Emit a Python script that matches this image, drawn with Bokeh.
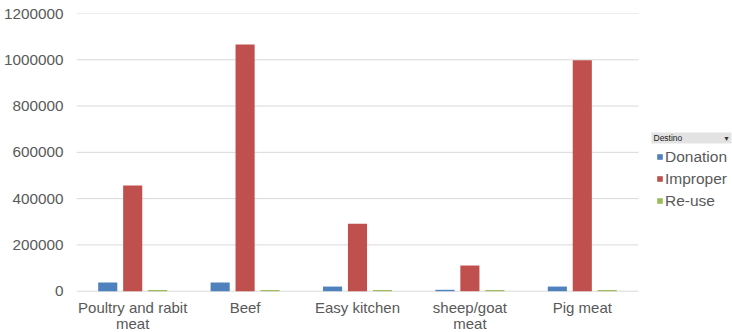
from bokeh.plotting import figure
from bokeh.models import ColumnDataSource, Range1d, BasicTickFormatter, FixedTicker, Legend, LegendItem
from bokeh.transform import dodge
from bokeh.core.properties import value
from bokeh.embed import file_html
from bokeh.resources import INLINE

# ---- data ----
categories = ["Poultry and rabit meat", "Beef", "Easy kitchen", "sheep/goat meat", "Pig meat"]
category_labels = ["Poultry and rabit\nmeat", "Beef", "Easy kitchen", "sheep/goat\nmeat", "Pig meat"]
donation = [37500, 38000, 20000, 6000, 20000]
improper = [457000, 1066000, 291000, 111000, 998000]
reuse = [5000, 5000, 5000, 5000, 5000]
series_names = ["Donation", "Improper", "Re-use"]
series_cols = ["Donation", "Improper", "Reuse"]
colors = ["#4f81bd", "#c0504d", "#9bbb59"]
y_ticks = [0, 200000, 400000, 600000, 800000, 1000000, 1200000]
legend_title = "Destino"

# ---- layout constants (pixels) ----
W, H = 732, 332
FRAME_L, TOP_PX, ZERO_PX = 76, 13, 290.7
CAT_PX = 112.4
Y_MAX = y_ticks[-1]
Y_PER_PX = Y_MAX / (ZERO_PX - TOP_PX)

def dx(px):
    return (px - FRAME_L) / CAT_PX

def dy(py):
    return (ZERO_PX - py) * Y_PER_PX

font = "Liberation Sans"
text_color = "#595959"
n = len(categories)
xc = [i + 0.5 for i in range(n)]
line1 = [s.split("\n")[0] for s in category_labels]
line2 = [s.split("\n")[1] if "\n" in s else "" for s in category_labels]

src = ColumnDataSource(dict(xc=xc, Donation=donation, Improper=improper, Reuse=reuse,
                            l1=line1, l2=line2))

p = figure(x_range=Range1d(0, dx(W)), y_range=Range1d(dy(H), Y_MAX),
           width=W, height=H, output_backend="svg", toolbar_location=None,
           min_border_left=FRAME_L, min_border_right=0, min_border_top=TOP_PX, min_border_bottom=0,
           x_axis_location=None)
p.outline_line_color = None
p.grid.visible = False

# gridlines across the category area only
p.segment(x0=[0] * len(y_ticks), x1=[n] * len(y_ticks), y0=y_ticks, y1=y_ticks,
          line_color="#d9d9d9", line_width=1)

renderers = []
for col, off, c in zip(series_cols, [-0.222, 0.0, 0.222], colors):
    r = p.vbar(x=dodge("xc", off), top=col, width=0.17, source=src,
               fill_color=c, line_color=None)
    renderers.append(r)

p.yaxis.ticker = FixedTicker(ticks=y_ticks)
p.yaxis.formatter = BasicTickFormatter(use_scientific=False)
p.yaxis.axis_line_color = None
p.yaxis.major_tick_line_color = None
p.yaxis.minor_tick_line_color = None
p.yaxis.major_tick_out = 0
p.yaxis.major_tick_in = 0
p.yaxis.minor_tick_out = 0
p.yaxis.major_label_standoff = 13
p.yaxis.major_label_text_font = font
p.yaxis.major_label_text_font_size = "15.3px"
p.yaxis.major_label_text_color = text_color

# category labels (two lines)
p.text(x="xc", y=0, text="l1", source=src, y_offset=16, text_align="center",
       text_baseline="alphabetic", text_font=value(font), text_font_size="15px", text_color=text_color)
p.text(x="xc", y=0, text="l2", source=src, y_offset=32.5, text_align="center",
       text_baseline="alphabetic", text_font=value(font), text_font_size="15px", text_color=text_color)

# legend header
p.quad(left=[dx(651)], right=[dx(731)], top=[dy(132)], bottom=[dy(143)],
       fill_color="#e3e3e3", line_color=None)
p.text(x=[dx(653)], y=[dy(137.8)], text=[legend_title], text_font=value(font),
       text_font_size="8.5px", text_color="#1a1a1a", text_baseline="middle")
p.text(x=[dx(726)], y=[dy(137.5)], text=["▾"], text_font=value("DejaVu Sans"),
       text_font_size="8px", text_color="#333333", text_baseline="middle", text_align="center")

legend = Legend(items=[LegendItem(label=s, renderers=[r]) for s, r in zip(series_names, renderers)],
                location=(580, 121.5), padding=0, margin=0, spacing=2,
                glyph_width=7, glyph_height=7, label_height=20, label_standoff=2,
                label_text_font=font, label_text_font_size="15.5px", label_text_color=text_color,
                background_fill_alpha=0, border_line_color=None)
p.add_layout(legend, "center")

open("out.html", "w").write(file_html(p, INLINE))
